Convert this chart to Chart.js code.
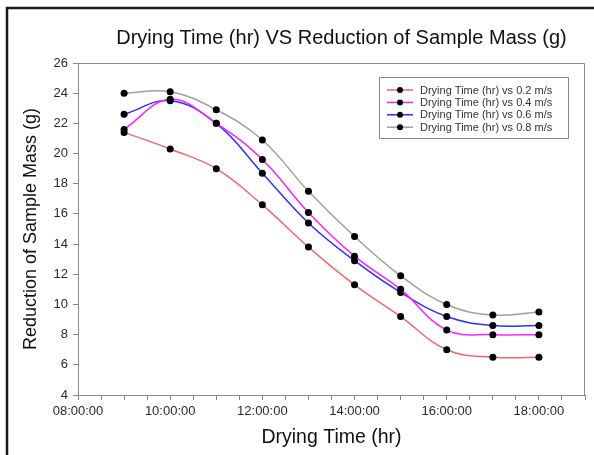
<!DOCTYPE html>
<html>
<head>
<meta charset="utf-8">
<script src="https://cdn.jsdelivr.net/npm/chart.js@4"></script>
<style>
  html, body { margin: 0; padding: 0; background: #fff; }
  #wrap { width: 594px; height: 455px; position: relative; }
</style>
</head>
<body>
<div id="wrap"><canvas id="c" width="594" height="455"></canvas></div>
<script>
// ---- data ----
const chartTitle = 'Drying Time (hr) VS Reduction of Sample Mass (g)';
const xTitle = 'Drying Time (hr)';
const yTitle = 'Reduction of Sample Mass (g)';
const hours = [9, 10, 11, 12, 13, 14, 15, 16, 17, 18];
const seriesLabels = [
  'Drying Time (hr) vs 0.2 m/s',
  'Drying Time (hr) vs 0.4 m/s',
  'Drying Time (hr) vs 0.6 m/s',
  'Drying Time (hr) vs 0.8 m/s'
];
const speed02 = [21.4, 20.3, 19.0, 16.6, 13.8, 11.3, 9.2, 7.0, 6.5, 6.5];
const speed04 = [21.6, 23.6, 22.0, 19.6, 16.1, 13.2, 11.0, 8.3, 8.0, 8.0];
const speed06 = [22.6, 23.5, 22.0, 18.7, 15.4, 12.9, 10.8, 9.2, 8.6, 8.6];
const speed08 = [24.0, 24.1, 22.9, 20.9, 17.5, 14.5, 11.9, 10.0, 9.3, 9.5];
const xMin = 8, xMax = 19;
const yMin = 4, yMax = 26;

// ---- styles ----
const FONT = "'Liberation Sans', Arial, sans-serif";
const lineColors = ['#f06a6a', '#ff22ff', '#2f2fff', '#a0a0a0'];
const seriesValues = [speed02, speed04, speed06, speed08];

function pad2(n) { return (n < 10 ? '0' : '') + n; }

const datasets = seriesValues.map((vals, i) => ({
  label: seriesLabels[i],
  data: hours.map((h, j) => ({ x: h, y: vals[j] })),
  borderColor: lineColors[i],
  backgroundColor: '#000',
  borderWidth: 1.5,
  pointRadius: 3.5,
  pointBackgroundColor: '#000',
  pointBorderColor: '#000',
  pointBorderWidth: 0,
  tension: 0.4,
  fill: false
}));

const decor = {
  id: 'decor',
  beforeDraw(chart) {
    const ctx = chart.ctx;
    ctx.save();
    ctx.fillStyle = '#fff';
    ctx.fillRect(0, 0, chart.width, chart.height);
    // outer frame (left + top)
    ctx.strokeStyle = '#1a1a1a';
    ctx.lineWidth = 2.5;
    ctx.beginPath();
    ctx.moveTo(7, chart.height);
    ctx.lineTo(7, 8);
    ctx.lineTo(chart.width, 8);
    ctx.stroke();
    ctx.restore();
  },
  afterDraw(chart) {
    const ctx = chart.ctx;
    const a = chart.chartArea;
    ctx.save();
    // plot frame top/right
    ctx.strokeStyle = '#8a8a8a';
    ctx.lineWidth = 1;
    ctx.beginPath();
    ctx.moveTo(a.left, a.top + 0.5);
    ctx.lineTo(a.right - 0.5, a.top + 0.5);
    ctx.lineTo(a.right - 0.5, a.bottom);
    ctx.stroke();
    // title
    ctx.fillStyle = '#111';
    ctx.font = '20px ' + FONT;
    ctx.textAlign = 'center';
    ctx.textBaseline = 'middle';
    ctx.fillText(chartTitle, 341.5, 38);
    // legend
    const lx = 379.5, ly = 77.5, lw = 189, lh = 61;
    ctx.fillStyle = '#fff';
    ctx.fillRect(lx, ly, lw, lh);
    ctx.strokeStyle = '#888';
    ctx.lineWidth = 1;
    ctx.strokeRect(lx, ly, lw, lh);
    ctx.font = '11px ' + FONT;
    ctx.textAlign = 'left';
    chart.data.datasets.forEach((ds, i) => {
      const y = 90 + i * 12.4;
      ctx.strokeStyle = ds.borderColor;
      ctx.lineWidth = 1.5;
      ctx.beginPath();
      ctx.moveTo(387, y);
      ctx.lineTo(413, y);
      ctx.stroke();
      ctx.fillStyle = '#000';
      ctx.beginPath();
      ctx.arc(400, y, 3, 0, Math.PI * 2);
      ctx.fill();
      ctx.fillStyle = '#333';
      ctx.fillText(ds.label, 420, y + 0.5);
    });
    ctx.restore();
  }
};

new Chart(document.getElementById('c'), {
  type: 'line',
  data: { datasets },
  options: {
    responsive: false,
    animation: false,
    layout: { padding: { left: 10, top: 63, right: 9, bottom: 0 } },
    plugins: {
      legend: { display: false },
      title: { display: false },
      tooltip: { enabled: false }
    },
    scales: {
      x: {
        type: 'linear',
        min: xMin,
        max: xMax,
        afterFit(scale) { scale.height = 60; },
        border: { display: true, color: '#8a8a8a', width: 1 },
        grid: { display: true, drawOnChartArea: false, drawTicks: true, tickLength: 5, tickColor: '#8a8a8a' },
        ticks: {
          stepSize: 0.5,
          autoSkip: false,
          maxRotation: 0,
          padding: 4,
          color: '#2a2a2a',
          font: { family: FONT, size: 13 },
          callback(v) {
            return (Number.isInteger(v) && v % 2 === 0) ? pad2(v) + ':00:00' : '';
          }
        },
        title: {
          display: true,
          text: xTitle,
          color: '#111',
          font: { family: FONT, size: 19.5 },
          padding: { top: 0, bottom: 6 }
        }
      },
      y: {
        min: yMin,
        max: yMax,
        afterFit(scale) { scale.width = 68; },
        border: { display: true, color: '#8a8a8a', width: 1 },
        grid: { display: true, drawOnChartArea: false, drawTicks: true, tickLength: 5, tickColor: '#8a8a8a' },
        ticks: {
          stepSize: 2,
          padding: 5,
          color: '#2a2a2a',
          font: { family: FONT, size: 13 }
        },
        title: {
          display: true,
          text: yTitle,
          color: '#111',
          font: { family: FONT, size: 18 },
          padding: { top: 10, bottom: 0 }
        }
      }
    }
  },
  plugins: [decor]
});
</script>
</body>
</html>
